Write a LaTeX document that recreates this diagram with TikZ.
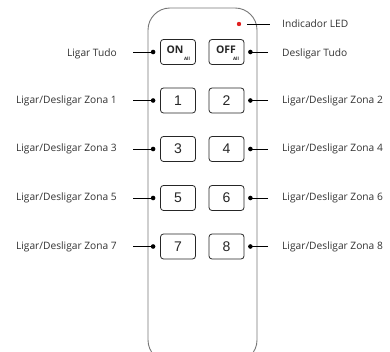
\documentclass[tikz,border=0pt]{standalone}
\usepackage{fontspec}
\setmainfont{Open Sans}
\newfontfamily\arialf{Liberation Sans}
\definecolor{txt}{HTML}{333333}
\definecolor{body}{HTML}{777777}
\definecolor{led}{HTML}{E02020}
\begin{document}
\begin{tikzpicture}[x=1pt,y=-1pt,
  lab/.style={font=\fontsize{10.2}{12}\selectfont, text=txt, inner sep=0pt},
  btn/.style={draw=black!85, line width=0.8pt, rounded corners=3pt, minimum width=35pt, minimum height=25pt, inner sep=0pt, font=\arialf\fontsize{14}{16}\selectfont, text=black!85},
  conn/.style={draw=black, line width=0.8pt},
  dotm/.style={circle, fill=black, inner sep=0pt, minimum size=4.6pt}]
\useasboundingbox (0,0) rectangle (390,352);
\fill[white] (0,0) rectangle (390,352);
\begin{scope}
\clip (0,0) rectangle (390,352);
\draw[body, line width=0.9pt, rounded corners=22pt] (148,8) rectangle (257,362);
\end{scope}
% buttons
\node[btn] (bon) at (178,52) {};
\node[btn] (boff) at (226.5,52) {};
\node[font=\bfseries\fontsize{10.5}{12}\selectfont, text=black!85, inner sep=0pt] (ton) at (175,50) {ON};
\node[font=\bfseries\fontsize{4.5}{5}\selectfont, text=black!85, inner sep=0pt] (aon) at (187,59) {All};
\node[font=\bfseries\fontsize{10.5}{12}\selectfont, text=black!85, inner sep=0pt] (toff) at (226,50) {OFF};
\node[font=\bfseries\fontsize{4.5}{5}\selectfont, text=black!85, inner sep=0pt] (aoff) at (236,59) {All};
\node[btn] (b1) at (178,100.5) {1};
\node[btn] (b2) at (226.5,100.5) {2};
\node[btn] (b3) at (178,149) {3};
\node[btn] (b4) at (226.5,149) {4};
\node[btn] (b5) at (178,198) {5};
\node[btn] (b6) at (226.5,198) {6};
\node[btn] (b7) at (178,246.5) {7};
\node[btn] (b8) at (226.5,246.5) {8};
% LED
\node[circle, fill=led, inner sep=0pt, minimum size=4.4pt] (led) at (239,24) {};
% labels left
\node[lab, anchor=east] (lon) at (117,54) {Ligar Tudo};
\node[lab, anchor=east] (l1) at (117,100.5) {Ligar/Desligar Zona 1};
\node[lab, anchor=east] (l3) at (117,149) {Ligar/Desligar Zona 3};
\node[lab, anchor=east] (l5) at (117,198) {Ligar/Desligar Zona 5};
\node[lab, anchor=east] (l7) at (117,246.5) {Ligar/Desligar Zona 7};
% labels right
\node[lab, anchor=west] (lled) at (282,24) {Indicador LED};
\node[lab, anchor=west] (loff) at (282,54) {Desligar Tudo};
\node[lab, anchor=west] (l2) at (282,100.5) {Ligar/Desligar Zona 2};
\node[lab, anchor=west] (l4) at (282,149) {Ligar/Desligar Zona 4};
\node[lab, anchor=west] (l6) at (282,198) {Ligar/Desligar Zona 6};
\node[lab, anchor=west] (l8) at (282,246.5) {Ligar/Desligar Zona 8};
% connectors left
\foreach \l/\b in {lon/bon,l1/b1,l3/b3,l5/b5,l7/b7}{
  \draw[conn] ([xshift=16pt]\l.east |- \b.west) -- ([xshift=-7pt]\b.west) node[dotm]{};
}
\foreach \l/\b in {loff/boff,l2/b2,l4/b4,l6/b6,l8/b8}{
  \draw[conn] ([xshift=-14pt]\l.west |- \b.east) -- ([xshift=6pt]\b.east) node[dotm]{};
}
\draw[conn] ([xshift=8pt]led.center) -- ([xshift=-12pt]lled.west);
\end{tikzpicture}
\end{document}
